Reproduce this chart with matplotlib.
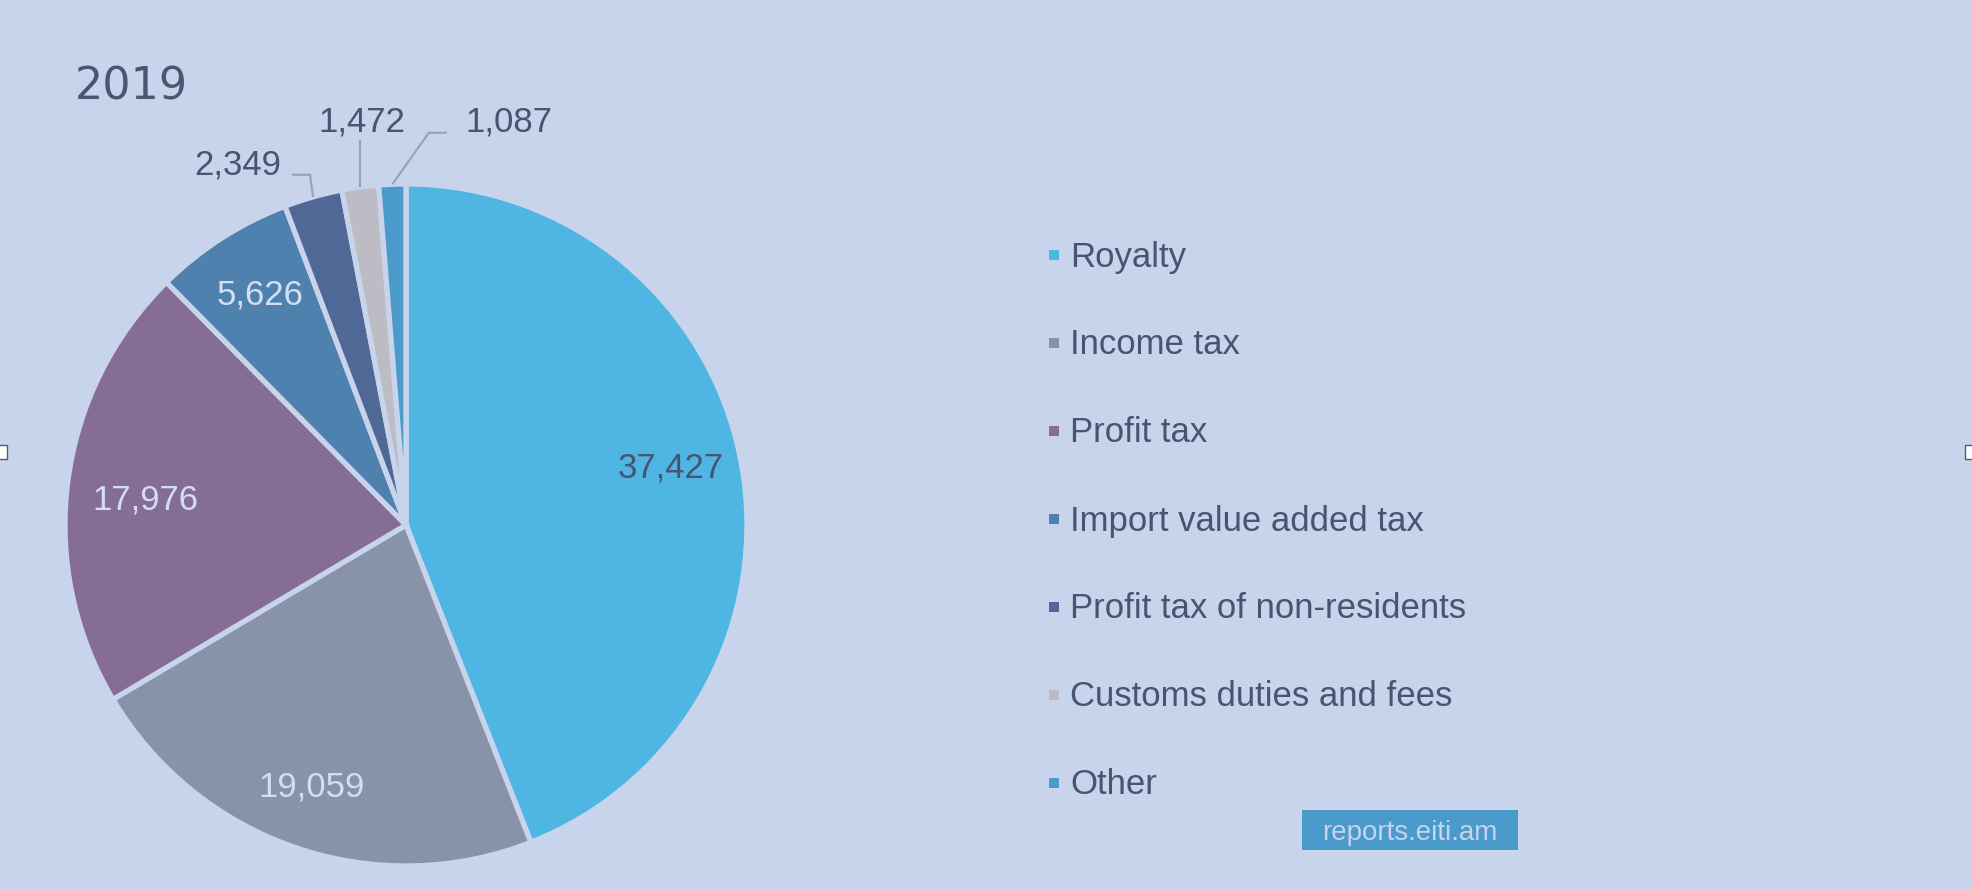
import numpy as np
import matplotlib.pyplot as plt
from matplotlib.patches import Rectangle

# data
categories = ["Royalty", "Income tax", "Profit tax", "Import value added tax",
              "Profit tax of non-residents", "Customs duties and fees", "Other"]
values = [37427, 19059, 17976, 5626, 2349, 1472, 1087]
colors = ["#4FB5E3", "#8893AA", "#856D98", "#4F81AF", "#4F6895", "#BDBCC4", "#4A9ACB"]
title = "2019"
watermark = "reports.eiti.am"

BG = "#C8D4EB"
TEXT = "#485470"
LIGHT = "#D5DEF0"
LEADER = "#9AA4B8"

W, H = 1972, 890
plt.rcParams['font.family'] = ['Liberation Sans', 'DejaVu Sans']

fig = plt.figure(figsize=(W / 100, H / 100), dpi=100, facecolor=BG)

# pie centre / radius in pixels
cx, cy, r = 406, 525, 341
ax = fig.add_axes([(cx - r) / W, (H - cy - r) / H, 2 * r / W, 2 * r / H])
ax.set_facecolor(BG)

wedges, _ = ax.pie(values, colors=colors, startangle=90, counterclock=False, radius=1,
                   wedgeprops=dict(edgecolor=BG, linewidth=3.8))
ax.set_xlim(-1, 1)
ax.set_ylim(-1, 1)
ax.axis('off')


def fmt(v):
    return f"{v:,}"


# small nudges (data units) for the inside labels
nudge = {0: (0.0, 0.03), 1: (-0.02, -0.012), 2: (0.018, -0.018), 3: (0.0, 0.02)}

# leader offsets (relative to wedge edge point) for the small slices
leaders = {
    4: dict(path=[(-0.009, 0.065), (-0.062, 0.065)], text=(-0.095, 0.103), ha='right'),
    5: dict(path=[(0.0, 0.139)], text=(0.006, 0.2), ha='center'),
    6: dict(path=[(0.107, 0.151), (0.160, 0.151)], text=(0.213, 0.192), ha='left'),
}

for i, (w, v) in enumerate(zip(wedges, values)):
    mid = np.deg2rad((w.theta1 + w.theta2) / 2)
    ex, ey = np.cos(mid), np.sin(mid)
    if i in leaders:
        spec = leaders[i]
        xs = [ex] + [ex + dx for dx, _ in spec['path']]
        ys = [ey] + [ey + dy for _, dy in spec['path']]
        ax.plot(xs, ys, color=LEADER, lw=1.6, clip_on=False, solid_capstyle='butt')
        tx, ty = spec['text']
        ax.text(ex + tx, ey + ty, fmt(v), ha=spec['ha'], va='center_baseline',
                fontsize=25, color=TEXT, clip_on=False)
    else:
        col = TEXT if i == 0 else LIGHT
        dx, dy = nudge.get(i, (0, 0))
        ax.text(0.79 * ex + dx, 0.79 * ey + dy, fmt(v), ha='center', va='center_baseline',
                fontsize=25, color=col)

# title
fig.text(75 / W, 1 - 99 / H, title, fontsize=32, color="#4B5672", va='baseline', ha='left',
         family=['DejaVu Sans'])

# legend, drawn by hand
for i, (name, col) in enumerate(zip(categories, colors)):
    yc = 255 + 88 * i
    fig.add_artist(Rectangle((1049 / W, 1 - (yc + 5) / H), 10 / W, 10 / H,
                             transform=fig.transFigure, facecolor=col, edgecolor='none'))
    fig.text(1070 / W, 1 - (yc + 11.5) / H, name, fontsize=25, color=TEXT,
             va='baseline', ha='left')

# watermark box
fig.add_artist(Rectangle((1302 / W, 1 - 850 / H), 216 / W, 40 / H,
                         transform=fig.transFigure, facecolor="#4A9ACB", edgecolor='none'))
fig.text(1410 / W, 1 - 830 / H, watermark, fontsize=20, color="#C5D3EC",
         ha='center', va='center_baseline')

# selection handles at the edges
for x0 in (-7, 1965):
    fig.add_artist(Rectangle((x0 / W, 1 - 459 / H), 14 / W, 14 / H, transform=fig.transFigure,
                             facecolor='white', edgecolor='#555B66', linewidth=1))

fig.savefig("out.png", dpi=100, facecolor=BG)
